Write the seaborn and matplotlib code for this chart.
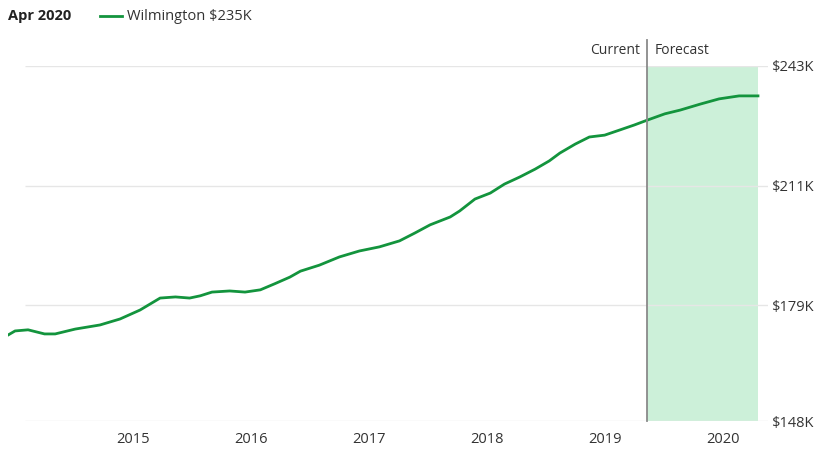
import matplotlib
matplotlib.use("Agg")
import matplotlib.pyplot as plt
import seaborn as sns
import pandas as pd

years = [2013.94,2014.0,2014.11,2014.25,2014.34,2014.51,2014.72,2014.89,2015.06,2015.23,2015.36,2015.48,
         2015.57,2015.67,2015.82,2015.95,2016.08,2016.20,2016.33,2016.42,2016.58,2016.75,2016.92,2017.09,
         2017.26,2017.39,2017.52,2017.69,2017.77,2017.90,2018.03,2018.15,2018.28,2018.41,2018.53,2018.62,
         2018.75,2018.87,2019.0,2019.13,2019.25,2019.36,2019.51,2019.64,2019.81,2019.97,2020.14,2020.30]
values = [171.0,172.1,172.4,171.3,171.3,172.6,173.7,175.3,177.7,180.9,181.2,180.9,
          181.5,182.5,182.8,182.5,183.1,184.7,186.5,188.1,189.7,191.9,193.5,194.6,
          196.2,198.3,200.5,202.6,204.2,207.4,209.0,211.4,213.3,215.4,217.6,219.7,
          222.1,224.0,224.5,225.9,227.2,228.5,230.2,231.2,232.8,234.2,235.0,235.0]
x_ticks = [2015,2016,2017,2018,2019,2020]
y_ticks = [148,179,211,243]
y_labels = ["$148K","$179K","$211K","$243K"]
current = 2019.36
end = 2020.30

plt.rcParams["font.family"] = "Open Sans"
fig = plt.figure(figsize=(8.21,4.58), dpi=100)
ax = fig.add_axes([8/821, 1-421/458, 760/821, (421-66)/458])
x0, x1 = 2013.94, 2020.385
ax.set_xlim(x0, x1); ax.set_ylim(148, 243)
ax.axvspan(current, end, color="#ccf0d9", zorder=0, lw=0)
for v in y_ticks:
    ax.hlines(v, 2014.08, x1, color="#e6e6e6", lw=1, zorder=1)
df = pd.DataFrame({"year": years, "value": values})
sns.lineplot(data=df, x="year", y="value", ax=ax, color="#13943d", lw=2, zorder=3)
ax.plot([current, current], [148, 243+26/3.737], color="#8a8a8a", lw=1.3, clip_on=False, zorder=4)
ax.text(current-0.06, 243+16/3.737, "Current", ha="right", va="center", fontsize=10, color="#333")
ax.text(current+0.06, 243+16/3.737, "Forecast", ha="left", va="center", fontsize=10, color="#333")
for s in ax.spines.values(): s.set_visible(False)
ax.set_xticks(x_ticks); ax.set_xticklabels([str(t) for t in x_ticks], fontsize=10.5, color="#333")
ax.set_yticks(y_ticks); ax.set_yticklabels(y_labels, fontsize=10.5, color="#333")
ax.yaxis.tick_right()
ax.tick_params(axis="x", length=0, pad=8)
ax.tick_params(axis="y", length=0, pad=2)
ax.set_xlabel(""); ax.set_ylabel("")
fig.text(8/821, 1-16/458, "Apr 2020", fontsize=10.5, fontweight="bold", color="#222", va="center")
fig.add_artist(plt.Line2D([100/821, 122/821], [1-16/458, 1-16/458], color="#13943d", lw=2))
fig.text(127/821, 1-16/458, "Wilmington $235K", fontsize=10.5, color="#333", va="center")
fig.savefig("out.png", dpi=100)
